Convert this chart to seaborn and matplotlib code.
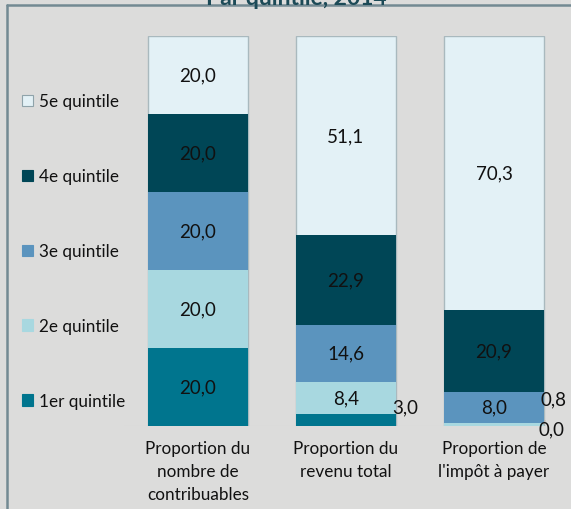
import numpy as np
import matplotlib
matplotlib.use("Agg")
import matplotlib.pyplot as plt
from matplotlib.lines import Line2D
from matplotlib.patches import Patch
import seaborn as sns

# Data (percent)
categories = ["Proportion du\nnombre de\ncontribuables",
              "Proportion du\nrevenu total",
              "Proportion de\nl'impôt à payer"]
quintiles = ["1er quintile", "2e quintile", "3e quintile", "4e quintile", "5e quintile"]
q1 = [20.0, 3.0, 0.0]
q2 = [20.0, 8.4, 0.8]
q3 = [20.0, 14.6, 8.0]
q4 = [20.0, 22.9, 20.9]
q5 = [20.0, 51.1, 70.3]
colors = ["#00758e", "#a8d8e0", "#5b94be", "#004656", "#e3f1f6"]
title = "Par quintile, 2014"

bg = "#dcdcdb"
sns.set_theme(style="white")
plt.rcParams["font.family"] = ["Lato", "DejaVu Sans"]

fig = plt.figure(figsize=(5.71, 5.10), dpi=100, facecolor=bg)
ax = fig.add_axes([124 / 571, 83 / 510, 444 / 571, 390 / 510])
ax.set_facecolor(bg)

series = [q1, q2, q3, q4, q5]
cums = np.cumsum(np.array(series), axis=0)

# stacked bars: draw cumulative totals from the top layer down
for i in range(4, -1, -1):
    if i == 4:
        kw = dict(edgecolor="#a9b9be", linewidth=1)
    else:
        kw = dict(linewidth=0)
    sns.barplot(x=categories, y=cums[i], color=colors[i], width=0.67,
                saturation=1, ax=ax, **kw)

# value labels
for j in range(len(categories)):
    for i in range(5):
        v = series[i][j]
        mid = cums[i][j] - v / 2
        txt = f"{v:.1f}".replace(".", ",")
        if v >= 5:
            ax.text(j, mid, txt, ha="center", va="center", fontsize=13.5, color="#111111")

# small values placed beside the bars
ax.annotate("3,0", xy=(1.335, q1[1] / 2), xytext=(10, 13), textcoords="offset pixels",
            ha="center", va="center", fontsize=13.5, color="#111111")
ax.annotate("0,8", xy=(2.335, q2[2] / 2 + q1[2]), xytext=(10, 26), textcoords="offset pixels",
            ha="center", va="center", fontsize=13.5, color="#111111",
            arrowprops=dict(arrowstyle="-", color="#b0b0b0", lw=0.8, shrinkA=8, shrinkB=0))
ax.annotate("0,0", xy=(2.335, q1[2]), xytext=(8, -3), textcoords="offset pixels",
            ha="center", va="center", fontsize=13.5, color="#111111")

ax.axhline(0, color="#d2d2d2", lw=0.8, zorder=0)
ax.set_xlim(-0.5, 2.5)
ax.set_ylim(0, 100)
ax.set_yticks([])
ax.set_xlabel("")
ax.set_ylabel("")
ax.tick_params(axis="x", length=0, pad=10, labelsize=12.3, labelcolor="#111111")
for lbl in ax.get_xticklabels():
    lbl.set_linespacing(1.55)
sns.despine(ax=ax, left=True, bottom=True)

# legend on the left, top quintile first
handles = [Patch(facecolor=colors[i], edgecolor="#8fa3aa" if i == 4 else colors[i],
                 linewidth=0.8) for i in range(4, -1, -1)]
labels = [quintiles[i] for i in range(4, -1, -1)]
fig.legend(handles, labels, loc="upper left", bbox_to_anchor=(7 / 571, 1 - 79 / 510),
           frameon=False, fontsize=12.3, handlelength=0.65, handleheight=0.65,
           handletextpad=0.3, labelspacing=3.45, labelcolor="#111111")

# title (cut by the frame) and frame lines
fig.text(296 / 571, 1 - 5 / 510, title, ha="center", va="baseline", fontsize=16.5,
         fontweight="bold", color="#1c4a57")
fig.add_artist(Line2D([7 / 571, 1], [1 - 5.5 / 510, 1 - 5.5 / 510], color="#738a93",
                      lw=1.8, transform=fig.transFigure))
fig.add_artist(Line2D([7 / 571, 7 / 571], [0, 1 - 5.5 / 510], color="#738a93",
                      lw=1.8, transform=fig.transFigure))

fig.savefig("out.png", dpi=100, facecolor=bg)
